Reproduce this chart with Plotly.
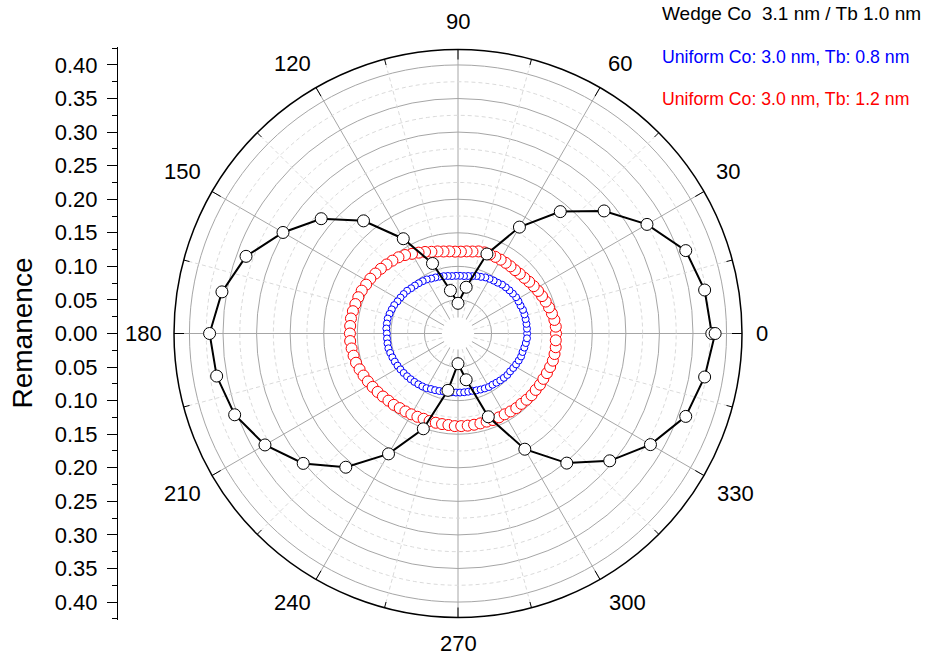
import plotly.graph_objects as go

# ---------------- data ----------------
theta_wedge = list(range(0, 361, 10))
r_wedge = [0.378, 0.373, 0.361, 0.325, 0.284, 0.237, 0.183, 0.126, 0.070, 0.045,
           0.065, 0.111, 0.163, 0.219, 0.266, 0.301, 0.336, 0.357, 0.370, 0.365,
           0.354, 0.332, 0.301, 0.260, 0.207, 0.151, 0.086, 0.045, 0.070, 0.132,
           0.199, 0.252, 0.295, 0.331, 0.361, 0.373, 0.383]

theta_uniform = list(range(0, 360, 4))
r_tb08 = [0.103, 0.103, 0.103, 0.103, 0.103, 0.103, 0.102, 0.102, 0.102, 0.101,
          0.100, 0.099, 0.098, 0.096, 0.095, 0.094, 0.093, 0.091, 0.090, 0.088,
          0.087, 0.086, 0.086, 0.086, 0.086, 0.087, 0.088, 0.089, 0.090, 0.091,
          0.093, 0.094, 0.095, 0.096, 0.097, 0.099, 0.100, 0.101, 0.102, 0.104,
          0.105, 0.106, 0.107, 0.107, 0.107, 0.106, 0.106, 0.106, 0.106, 0.105,
          0.104, 0.103, 0.102, 0.101, 0.100, 0.099, 0.098, 0.097, 0.096, 0.095,
          0.094, 0.092, 0.091, 0.090, 0.089, 0.088, 0.088, 0.088, 0.088, 0.088,
          0.088, 0.088, 0.089, 0.090, 0.091, 0.092, 0.092, 0.093, 0.094, 0.095,
          0.096, 0.096, 0.097, 0.098, 0.099, 0.100, 0.100, 0.101, 0.102, 0.103]
r_tb12 = [0.146, 0.146, 0.145, 0.143, 0.141, 0.139, 0.137, 0.135, 0.133, 0.131,
          0.129, 0.128, 0.127, 0.127, 0.127, 0.127, 0.127, 0.127, 0.127, 0.126,
          0.124, 0.123, 0.122, 0.122, 0.123, 0.124, 0.126, 0.128, 0.131, 0.134,
          0.137, 0.141, 0.144, 0.146, 0.148, 0.150, 0.152, 0.154, 0.155, 0.157,
          0.158, 0.159, 0.160, 0.161, 0.161, 0.161, 0.161, 0.160, 0.159, 0.158,
          0.156, 0.154, 0.152, 0.150, 0.148, 0.146, 0.144, 0.143, 0.141, 0.140,
          0.139, 0.138, 0.137, 0.137, 0.137, 0.137, 0.137, 0.138, 0.138, 0.138,
          0.138, 0.138, 0.138, 0.139, 0.139, 0.139, 0.140, 0.141, 0.141, 0.142,
          0.143, 0.143, 0.144, 0.144, 0.145, 0.146, 0.147, 0.147, 0.147, 0.146]

labels = ["Wedge Co  3.1 nm / Tb 1.0 nm",
          "Uniform Co: 3.0 nm, Tb: 0.8 nm",
          "Uniform Co: 3.0 nm, Tb: 1.2 nm"]

angle_ticks = list(range(0, 360, 30))
angle_ticktext = [str(a) for a in angle_ticks]
radial_major = [0.05, 0.10, 0.15, 0.20, 0.25, 0.30, 0.35, 0.40]
radial_minor = [0.075, 0.125, 0.175, 0.225, 0.275, 0.325, 0.375]
left_ticks = [-0.40, -0.35, -0.30, -0.25, -0.20, -0.15, -0.10, -0.05, 0.0,
              0.05, 0.10, 0.15, 0.20, 0.25, 0.30, 0.35, 0.40]
left_ticktext = ["%.2f" % abs(v) for v in left_ticks]

R_MAX = 0.423
R_HOLE = 0.024
FONT = "Arial, Liberation Sans, sans-serif"
TICK_FS = 22

W, H = 928, 659
cx, cy, rad = 458, 333.5, 284
px_per_unit = rad / R_MAX
y_ext = 0.427

# pixel centres of the angular tick labels (layout only)
angle_label_pos = {0: (762, 333), 30: (728, 172), 60: (620, 63), 90: (458, 22),
                   120: (292, 63), 150: (182, 172), 180: (143, 333), 210: (182, 494),
                   240: (292, 602), 270: (458, 643), 300: (627, 602), 330: (735, 494)}

def px_x(v):
    return v / W

def px_y(v):
    return 1 - v / H

# ---------------- decorations ----------------
circ_theta = list(range(0, 361, 2))
minor_angles = list(range(15, 360, 30))

grid_r, grid_t = [], []
for rv in radial_minor:
    grid_r += [rv] * len(circ_theta) + [None]
    grid_t += circ_theta + [None]
for a in minor_angles:
    grid_r += [R_HOLE, R_MAX, None]
    grid_t += [a, a, None]

tick_r, tick_t = [], []
for a in minor_angles:
    tick_r += [R_MAX - 6 / px_per_unit, R_MAX, None]
    tick_t += [a, a, None]
for a in angle_ticks:
    tick_r += [R_MAX - 10 / px_per_unit, R_MAX, None]
    tick_t += [a, a, None]

fig = go.Figure()

# white centre hole
fig.add_trace(go.Scatterpolar(r=[R_HOLE] * len(circ_theta), theta=circ_theta,
                              mode="lines", fill="toself", fillcolor="white",
                              line=dict(color="white", width=0),
                              hoverinfo="skip", showlegend=False))
# dashed minor grid
fig.add_trace(go.Scatterpolar(r=grid_r, theta=grid_t, mode="lines",
                              line=dict(color="#dadada", width=1, dash="4px,3px"),
                              hoverinfo="skip", showlegend=False, connectgaps=False))
# angular ticks (inside)
fig.add_trace(go.Scatterpolar(r=tick_r, theta=tick_t, mode="lines",
                              line=dict(color="black", width=1),
                              hoverinfo="skip", showlegend=False, connectgaps=False))

# ---------------- data traces ----------------
fig.add_trace(go.Scatterpolar(r=r_tb12, theta=theta_uniform, mode="markers",
                              name=labels[2],
                              marker=dict(symbol="circle", size=11, color="white",
                                          line=dict(color="#ff0000", width=1)),
                              showlegend=False))
fig.add_trace(go.Scatterpolar(r=r_tb08, theta=theta_uniform, mode="markers",
                              name=labels[1],
                              marker=dict(symbol="circle", size=7, color="white",
                                          line=dict(color="#0000ff", width=1)),
                              showlegend=False))
fig.add_trace(go.Scatterpolar(r=r_wedge, theta=theta_wedge, mode="lines+markers",
                              name=labels[0],
                              line=dict(color="black", width=2),
                              marker=dict(symbol="circle", size=12, color="white",
                                          line=dict(color="black", width=1)),
                              showlegend=False))

# invisible cartesian trace for left axis
fig.add_trace(go.Scatter(x=[0], y=[0], mode="markers", marker=dict(opacity=0),
                         hoverinfo="skip", showlegend=False, xaxis="x", yaxis="y"))

annotations = []
for a, txt in zip(angle_ticks, angle_ticktext):
    lx, ly = angle_label_pos[a]
    annotations.append(dict(text=txt, x=px_x(lx), y=px_y(ly),
                            xref="paper", yref="paper", showarrow=False,
                            xanchor="center", yanchor="middle",
                            font=dict(size=TICK_FS, family=FONT, color="black")))

annotations += [
    dict(text="Remanence", textangle=-90, x=px_x(22), y=px_y(333.5),
         xref="paper", yref="paper", showarrow=False, xanchor="center", yanchor="middle",
         font=dict(size=28, family=FONT, color="black")),
    dict(text=labels[0], x=px_x(660), y=px_y(13.5), xref="paper", yref="paper",
         showarrow=False, xanchor="left", yanchor="middle",
         font=dict(size=19, family=FONT, color="black")),
    dict(text=labels[1], x=px_x(660), y=px_y(57), xref="paper", yref="paper",
         showarrow=False, xanchor="left", yanchor="middle",
         font=dict(size=17.7, family=FONT, color="#0000ff")),
    dict(text=labels[2], x=px_x(660), y=px_y(99.5), xref="paper", yref="paper",
         showarrow=False, xanchor="left", yanchor="middle",
         font=dict(size=17.7, family=FONT, color="#ff0000")),
]

fig.update_layout(
    width=W, height=H,
    margin=dict(l=0, r=0, t=0, b=0),
    paper_bgcolor="white",
    plot_bgcolor="rgba(0,0,0,0)",
    font=dict(family=FONT, color="black"),
    polar=dict(
        domain=dict(x=[(cx - rad) / W, (cx + rad) / W],
                    y=[1 - (cy + rad) / H, 1 - (cy - rad) / H]),
        bgcolor="white",
        radialaxis=dict(range=[0, R_MAX], tickmode="array", tickvals=radial_major,
                        showticklabels=False, ticks="", showline=False,
                        gridcolor="#a6a6a6", gridwidth=1),
        angularaxis=dict(rotation=0, direction="counterclockwise",
                         tickmode="array", tickvals=angle_ticks,
                         showticklabels=False, ticks="",
                         showline=True, linecolor="black", linewidth=1.5,
                         gridcolor="#a6a6a6", gridwidth=1),
    ),
    xaxis=dict(domain=[px_x(117), px_x(121)], visible=False, range=[-1, 1]),
    yaxis=dict(domain=[1 - (cy + y_ext * px_per_unit) / H, 1 - (cy - y_ext * px_per_unit) / H],
               range=[-y_ext, y_ext], anchor="free", position=px_x(117), side="left",
               tickmode="array", tickvals=left_ticks, ticktext=left_ticktext,
               ticks="outside", ticklen=10, tickwidth=1, tickcolor="black",
               ticklabelstandoff=5,
               showline=True, linecolor="black", linewidth=1,
               showgrid=False, zeroline=False,
               minor=dict(ticks="outside", ticklen=5, tickwidth=1, tickcolor="black",
                          dtick=0.025, tick0=0, showgrid=False),
               tickfont=dict(size=TICK_FS, family=FONT, color="black")),
    annotations=annotations,
)

fig.write_html("out.html",
               config={"displayModeBar": False, "staticPlot": True},
               post_script="document.body.style.margin='0px';")
